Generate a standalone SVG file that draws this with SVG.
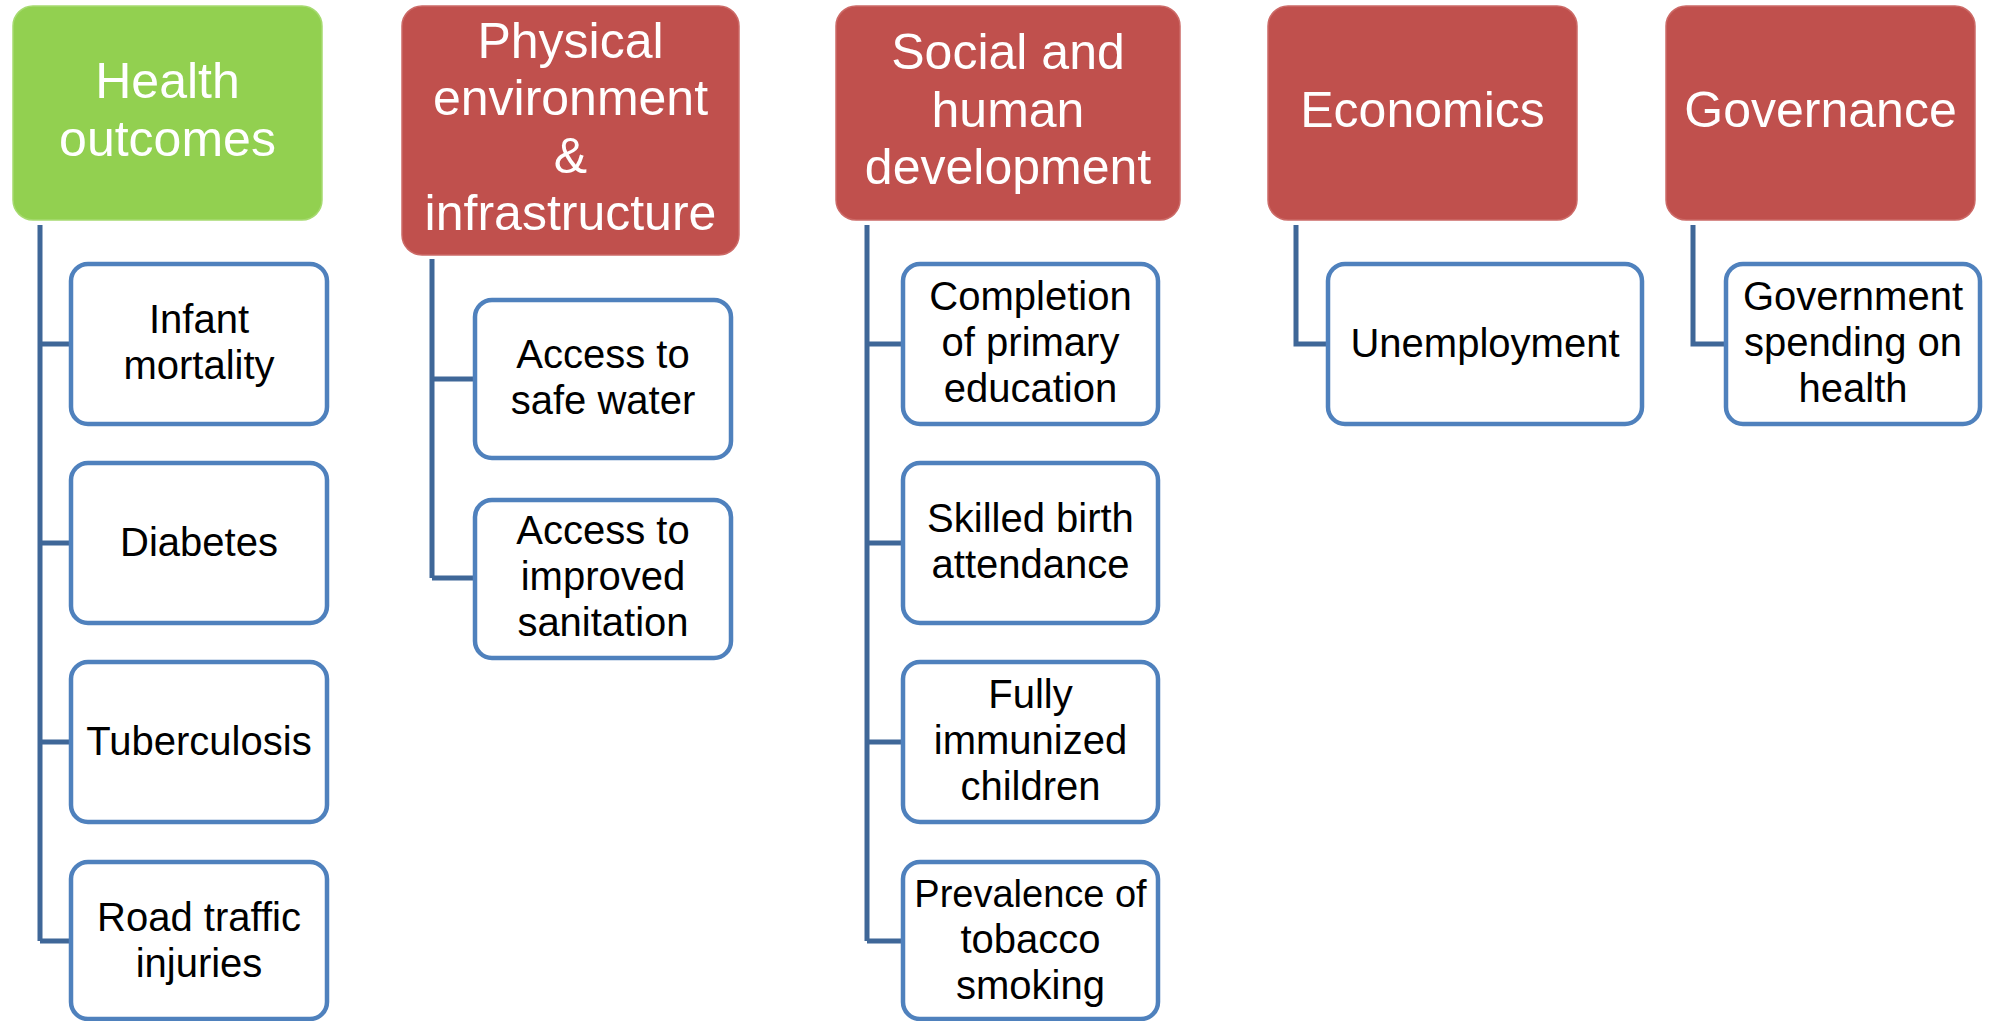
<svg xmlns="http://www.w3.org/2000/svg" width="1991" height="1021" viewBox="0 0 1991 1021">
<style>
.hdr-g{fill:#92D050;stroke:#A6DA70;stroke-width:1.5}
.hdr-r{fill:#C0504D;stroke:#CC6A67;stroke-width:1.5}
.child{fill:#FFFFFF;stroke:#4F81BD;stroke-width:4.5}
.ht{font-family:"Liberation Sans",Arial,sans-serif;font-size:50px;fill:#FFFFFF;text-anchor:middle}
.ct{font-family:"Liberation Sans",Arial,sans-serif;font-size:40px;fill:#000000;text-anchor:middle}
.conn{fill:none;stroke:#3F6798;stroke-width:5}
</style>
<rect width="1991" height="1021" fill="#FFFFFF"/>
<g id="connectors">
<path class="conn" d="M40,225 V941 M40,344 H72 M40,543 H72 M40,742 H72 M40,941 H72"/>
<path class="conn" d="M432,259 V578 M432,379 H476 M432,578 H476"/>
<path class="conn" d="M867,225 V941 M867,344 H904 M867,543 H904 M867,742 H904 M867,941 H904"/>
<path class="conn" d="M1296,225 V344 H1329"/>
<path class="conn" d="M1693,225 V344 H1727"/>
</g>
<g id="health-outcomes">
<rect class="hdr-g" x="13" y="6" width="309" height="214" rx="20"/>
<text class="ht" x="167.5" y="98">Health</text>
<text class="ht" x="167.5" y="156">outcomes</text>
</g>
<g id="infant-mortality">
<rect class="child" x="71" y="264" width="256" height="160" rx="17"/>
<text class="ct" x="199" y="333">Infant</text>
<text class="ct" x="199" y="379">mortality</text>
</g>
<g id="diabetes">
<rect class="child" x="71" y="463" width="256" height="160" rx="17"/>
<text class="ct" x="199" y="556">Diabetes</text>
</g>
<g id="tuberculosis">
<rect class="child" x="71" y="662" width="256" height="160" rx="17"/>
<text class="ct" x="199" y="755">Tuberculosis</text>
</g>
<g id="road-traffic-injuries">
<rect class="child" x="71" y="862" width="256" height="157" rx="17"/>
<text class="ct" x="199" y="931">Road traffic</text>
<text class="ct" x="199" y="977">injuries</text>
</g>
<g id="physical-environment">
<rect class="hdr-r" x="402" y="6" width="337" height="249" rx="20"/>
<text class="ht" x="570.5" y="58">Physical</text>
<text class="ht" x="570.5" y="115">environment</text>
<text class="ht" x="570.5" y="173">&amp;</text>
<text class="ht" x="570.5" y="230">infrastructure</text>
</g>
<g id="safe-water">
<rect class="child" x="475" y="300" width="256" height="158" rx="17"/>
<text class="ct" x="603" y="368">Access to</text>
<text class="ct" x="603" y="414">safe water</text>
</g>
<g id="sanitation">
<rect class="child" x="475" y="500" width="256" height="158" rx="17"/>
<text class="ct" x="603" y="544">Access to</text>
<text class="ct" x="603" y="590">improved</text>
<text class="ct" x="603" y="636">sanitation</text>
</g>
<g id="social-human-development">
<rect class="hdr-r" x="836" y="6" width="344" height="214" rx="20"/>
<text class="ht" x="1008" y="69">Social and</text>
<text class="ht" x="1008" y="127">human</text>
<text class="ht" x="1008" y="184">development</text>
</g>
<g id="primary-education">
<rect class="child" x="903" y="264" width="255" height="160" rx="17"/>
<text class="ct" x="1030.5" y="310">Completion</text>
<text class="ct" x="1030.5" y="356">of primary</text>
<text class="ct" x="1030.5" y="402">education</text>
</g>
<g id="skilled-birth">
<rect class="child" x="903" y="463" width="255" height="160" rx="17"/>
<text class="ct" x="1030.5" y="532">Skilled birth</text>
<text class="ct" x="1030.5" y="578">attendance</text>
</g>
<g id="immunized">
<rect class="child" x="903" y="662" width="255" height="160" rx="17"/>
<text class="ct" x="1030.5" y="708">Fully</text>
<text class="ct" x="1030.5" y="754">immunized</text>
<text class="ct" x="1030.5" y="800">children</text>
</g>
<g id="tobacco">
<rect class="child" x="903" y="862" width="255" height="157" rx="17"/>
<text class="ct" x="1030.5" y="907" style="font-size:38px">Prevalence of</text>
<text class="ct" x="1030.5" y="953">tobacco</text>
<text class="ct" x="1030.5" y="999">smoking</text>
</g>
<g id="economics">
<rect class="hdr-r" x="1268" y="6" width="309" height="214" rx="20"/>
<text class="ht" x="1422.5" y="127">Economics</text>
</g>
<g id="unemployment">
<rect class="child" x="1328" y="264" width="314" height="160" rx="17"/>
<text class="ct" x="1485" y="357">Unemployment</text>
</g>
<g id="governance">
<rect class="hdr-r" x="1666" y="6" width="309" height="214" rx="20"/>
<text class="ht" x="1820.5" y="127">Governance</text>
</g>
<g id="government-spending">
<rect class="child" x="1726" y="264" width="254" height="160" rx="17"/>
<text class="ct" x="1853" y="310">Government</text>
<text class="ct" x="1853" y="356">spending on</text>
<text class="ct" x="1853" y="402">health</text>
</g>
</svg>
